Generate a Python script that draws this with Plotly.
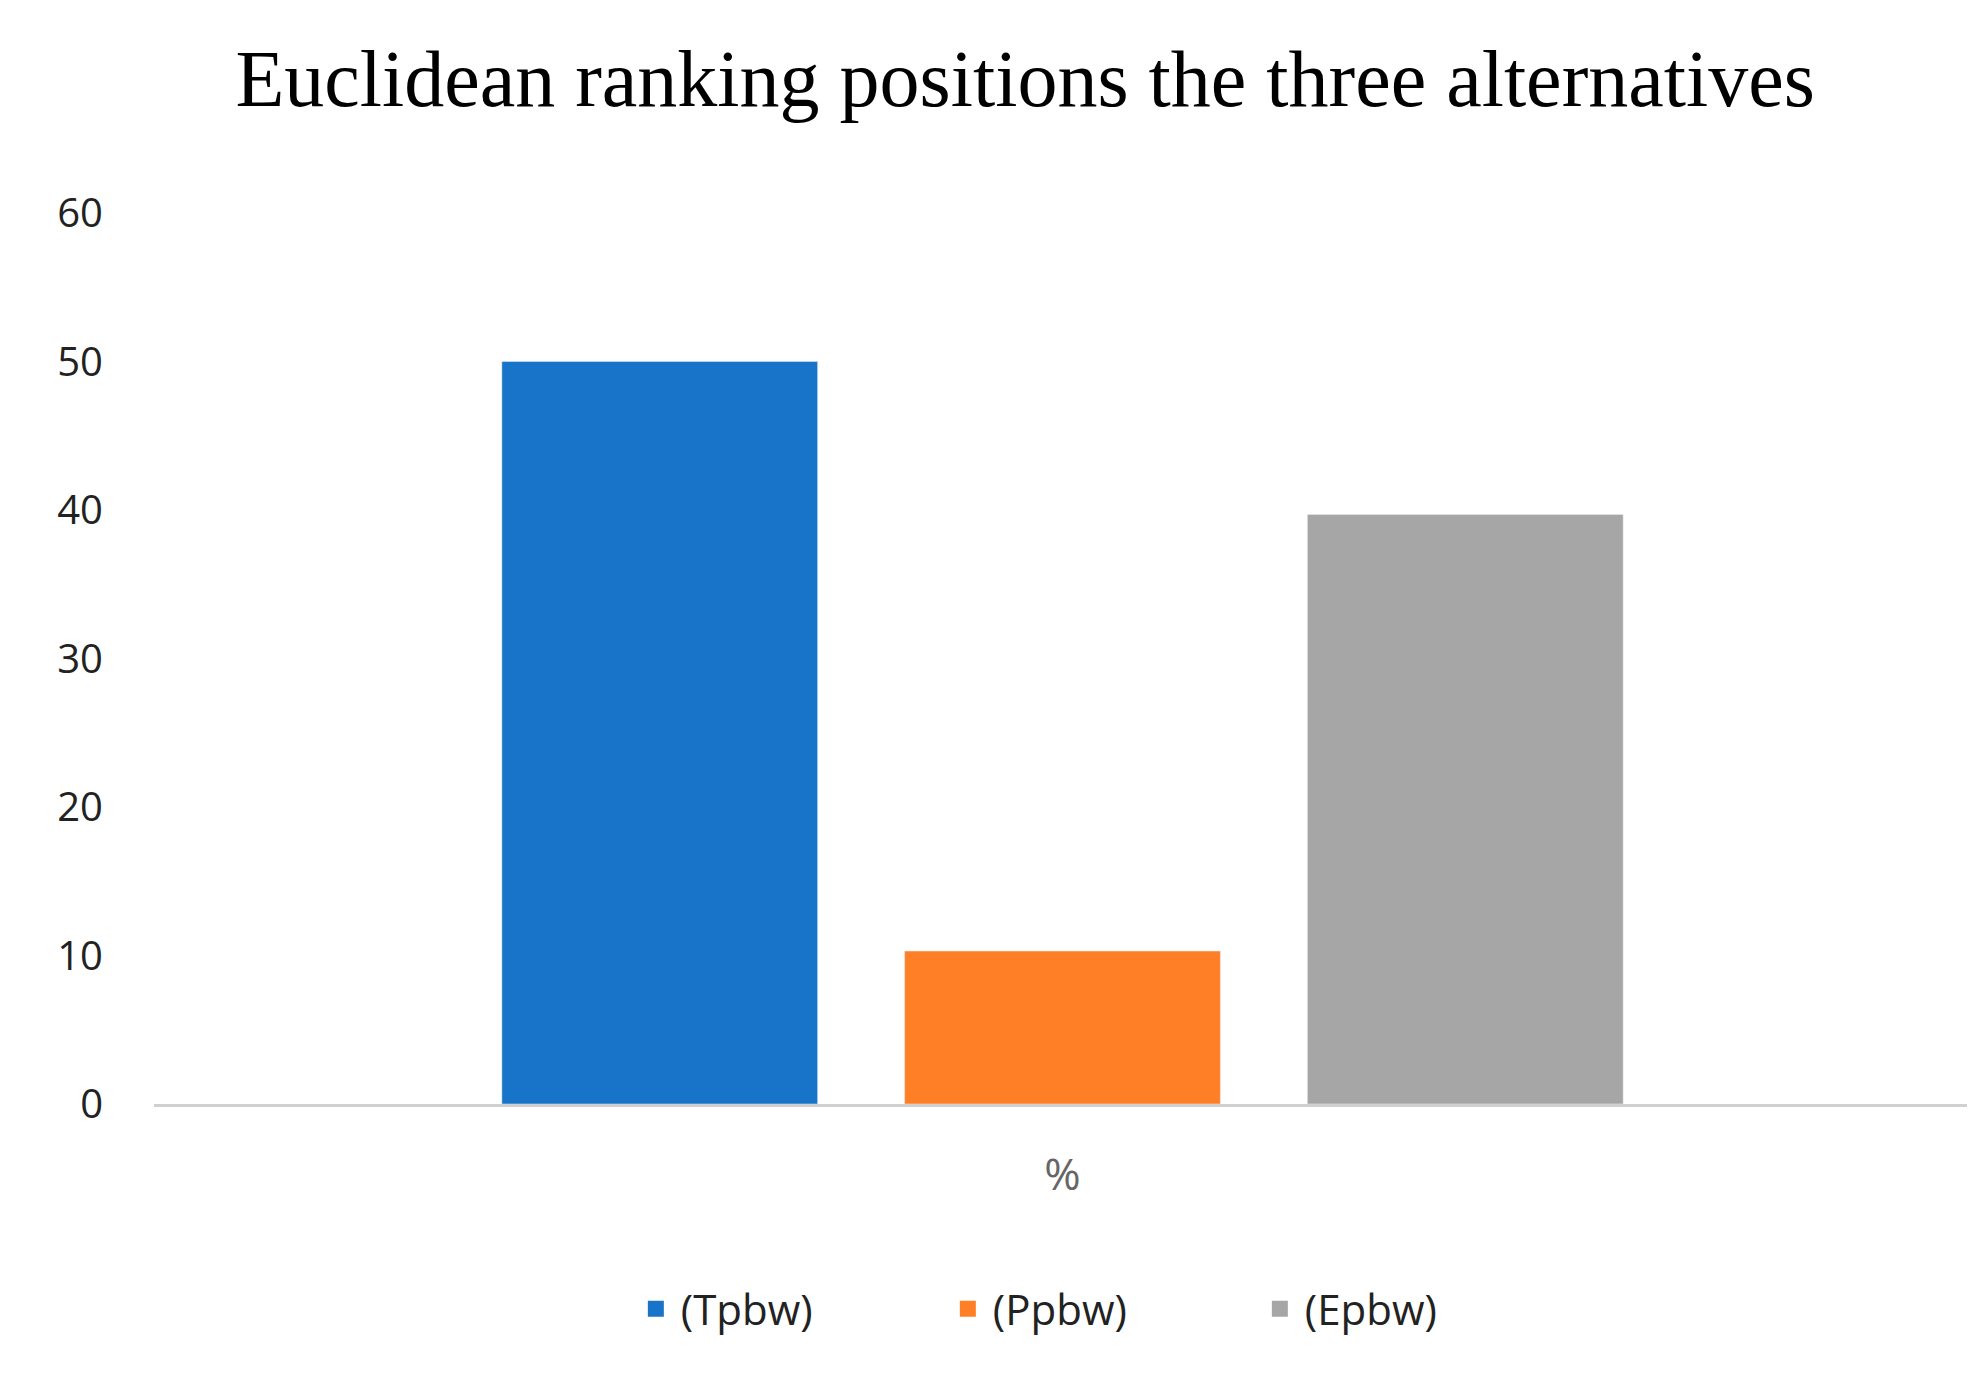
import plotly.graph_objects as go

categories = ["%"]
series_names = ["(Tpbw)", "(Ppbw)", "(Epbw)"]
series_values = [[50], [10.3], [39.7]]
colors = ["#1874C8", "#FF7F27", "#A6A6A6"]

fig = go.Figure()
for n, v, c in zip(series_names, series_values, colors):
    fig.add_trace(go.Bar(x=categories, y=v, name=n, marker_color=c, showlegend=False))
for n, c in zip(series_names, colors):
    fig.add_trace(go.Scatter(x=[None], y=[None], mode="markers", name=n,
                             marker=dict(symbol="square", size=30, color=c)))

fig.update_layout(
    width=1975, height=1390,
    paper_bgcolor="white", plot_bgcolor="white",
    barmode="group", bargap=0.335, bargroupgap=0.216,
    margin=dict(l=146, r=12, t=205, b=294),
    title=dict(text="Euclidean ranking positions the three alternatives",
               x=0.515, xanchor="center", y=0.95, yanchor="middle",
               font=dict(family="Liberation Serif", size=80, color="black")),
    font=dict(family="Open Sans", color="#222"),
    yaxis=dict(range=[0, 60], dtick=10, showgrid=False, zeroline=False,
               tickfont=dict(size=40, color="#222"), ticklabelstandoff=50),
    xaxis=dict(showline=True, linecolor="#D0D0D0", linewidth=3,
               tickfont=dict(size=44, color="#666"), ticklabelstandoff=30),
    legend=dict(orientation="h", x=0.52, xanchor="center", y=-0.23, yanchor="middle",
                font=dict(size=42, color="#222"), itemwidth=40,
                entrywidthmode="pixels", entrywidth=257),
)
fig.write_html("out.html")
